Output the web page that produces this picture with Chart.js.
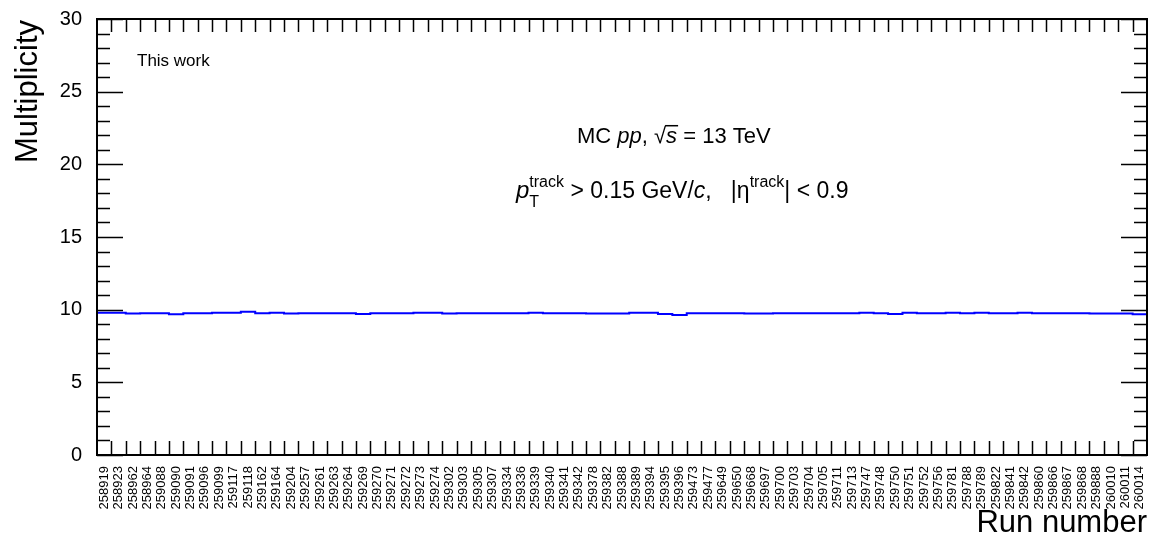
<!DOCTYPE html>
<html>
<head>
<meta charset="utf-8">
<script src="https://cdn.jsdelivr.net/npm/chart.js@4.4.0/dist/chart.umd.min.js"></script>
<style>
  html, body { margin: 0; padding: 0; background: #fff; }
  #wrap { width: 1162px; height: 536px; }
</style>
</head>
<body>
<div id="wrap"><canvas id="chart" width="1162" height="536"></canvas></div>
<script>
const FONT = "'Liberation Sans', Arial, Helvetica, sans-serif";

// run numbers (one bin each)
const runs = [
  '258919', '258923', '258962', '258964', '259088', '259090', '259091', '259096', '259099', '259117',
  '259118', '259162', '259164', '259204', '259257', '259261', '259263', '259264', '259269', '259270',
  '259271', '259272', '259273', '259274', '259302', '259303', '259305', '259307', '259334', '259336',
  '259339', '259340', '259341', '259342', '259378', '259382', '259388', '259389', '259394', '259395',
  '259396', '259473', '259477', '259649', '259650', '259668', '259697', '259700', '259703', '259704',
  '259705', '259711', '259713', '259747', '259748', '259750', '259751', '259752', '259756', '259781',
  '259788', '259789', '259822', '259841', '259842', '259860', '259866', '259867', '259868', '259888',
  '260010', '260011', '260014'
];

// mean multiplicity per run
const multiplicity = [
  9.79, 9.79, 9.73, 9.75, 9.75, 9.68, 9.75, 9.75, 9.79, 9.79,
  9.86, 9.75, 9.79, 9.73, 9.75, 9.75, 9.75, 9.75, 9.70, 9.75,
  9.75, 9.75, 9.79, 9.79, 9.73, 9.75, 9.75, 9.75, 9.75, 9.75,
  9.79, 9.75, 9.75, 9.75, 9.73, 9.73, 9.73, 9.79, 9.79, 9.70,
  9.63, 9.75, 9.75, 9.75, 9.75, 9.73, 9.73, 9.75, 9.75, 9.75,
  9.75, 9.75, 9.75, 9.79, 9.75, 9.70, 9.79, 9.75, 9.75, 9.79,
  9.75, 9.79, 9.75, 9.75, 9.79, 9.75, 9.75, 9.75, 9.75, 9.73,
  9.73, 9.73, 9.68
];

const yMin = 0;
const yMax = 30;
const yStep = 5;

// histogram: point at each bin's low edge, plus closing edge
const histPoints = multiplicity.map((v, i) => ({x: i, y: v}));
histPoints.push({x: runs.length, y: multiplicity[multiplicity.length - 1]});

// draw a line of mixed-style text, returns end x
function drawParts(ctx, x, y, parts) {
  parts.forEach(p => {
    if (p.stack) {
      // sub + superscript on top of each other
      let w = 0;
      p.stack.forEach(s => {
        ctx.font = (s.italic ? 'italic ' : '') + s.size + 'px ' + FONT;
        ctx.fillText(s.t, x, y + s.dy);
        w = Math.max(w, ctx.measureText(s.t).width);
      });
      x += w;
      return;
    }
    ctx.font = (p.italic ? 'italic ' : '') + p.size + 'px ' + FONT;
    const w = ctx.measureText(p.t).width;
    ctx.fillText(p.t, x, y + (p.dy || 0));
    if (p.overline) {
      ctx.fillRect(x - 1, y - p.size * 0.82, w + 2, 1.5);
    }
    x += w;
  });
  return x;
}

const framePlugin = {
  id: 'rootFrame',
  afterDraw(chart) {
    const {ctx, chartArea: a, scales: {x, y}} = chart;
    ctx.save();
    ctx.strokeStyle = '#000';
    ctx.fillStyle = '#000';
    ctx.lineWidth = 2;
    ctx.strokeRect(a.left, a.top, a.right - a.left, a.bottom - a.top);

    // y ticks, both sides
    ctx.lineWidth = 1.5;
    ctx.beginPath();
    for (let v = yMin; v <= yMax; v++) {
      const py = Math.round(y.getPixelForValue(v)) + 0.5;
      const len = v % yStep === 0 ? 26 : 13;
      ctx.moveTo(a.left, py); ctx.lineTo(a.left + len, py);
      ctx.moveTo(a.right, py); ctx.lineTo(a.right - len, py);
    }
    // x ticks at bin edges, top and bottom
    for (let i = 1; i < runs.length; i++) {
      const px = Math.round(x.getPixelForValue(i)) + 0.5;
      ctx.moveTo(px, a.bottom); ctx.lineTo(px, a.bottom - 14);
      ctx.moveTo(px, a.top); ctx.lineTo(px, a.top + 13);
    }
    ctx.stroke();

    // axis titles
    ctx.font = '31px ' + FONT;
    ctx.textAlign = 'right';
    ctx.textBaseline = 'alphabetic';
    ctx.fillText('Run number', a.right, 532);
    ctx.save();
    ctx.translate(37, a.top + 1);
    ctx.rotate(-Math.PI / 2);
    ctx.fillText('Multiplicity', 0, 0);
    ctx.restore();

    // labels
    ctx.textAlign = 'left';
    ctx.font = '17px ' + FONT;
    ctx.fillText('This work', 137, 66);

    drawParts(ctx, 577, 143, [
      {t: 'MC ', size: 22},
      {t: 'pp', size: 22, italic: true},
      {t: ', ', size: 22},
      {t: '\u221A', size: 22},
      {t: 's', size: 22, italic: true, overline: true},
      {t: ' = 13 TeV', size: 22}
    ]);

    drawParts(ctx, 516, 198, [
      {t: 'p', size: 24, italic: true},
      {stack: [
        {t: 'track', size: 16, dy: -11},
        {t: 'T', size: 16, dy: 9}
      ]},
      {t: ' > 0.15 GeV/', size: 23},
      {t: 'c', size: 23, italic: true},
      {t: ',   |\u03B7', size: 23},
      {t: 'track', size: 16, dy: -11},
      {t: '| < 0.9', size: 23}
    ]);
    ctx.restore();
  }
};

new Chart(document.getElementById('chart'), {
  type: 'line',
  data: {
    datasets: [{
      data: histPoints,
      stepped: true,
      borderColor: '#0000ff',
      borderWidth: 2,
      pointRadius: 0,
      fill: false
    }]
  },
  options: {
    responsive: false,
    animation: false,
    devicePixelRatio: 1,
    layout: {padding: {top: 18, right: 15, left: 0, bottom: 0}},
    plugins: {legend: {display: false}, tooltip: {enabled: false}},
    scales: {
      x: {
        type: 'linear',
        bounds: 'data',
        min: 0,
        max: runs.length,
        grid: {display: false},
        border: {display: false},
        afterBuildTicks: s => { s.ticks = runs.map((r, i) => ({value: i + 0.5})); },
        afterFit: s => { s.height = 81; },
        ticks: {
          autoSkip: false,
          minRotation: 90,
          maxRotation: 90,
          padding: 3,
          color: '#000',
          font: {family: FONT, size: 13},
          callback: v => runs[Math.floor(v)]
        }
      },
      y: {
        min: yMin,
        max: yMax,
        grid: {display: false},
        border: {display: false},
        afterFit: s => { s.width = 97; },
        ticks: {
          stepSize: yStep,
          padding: 7,
          color: '#000',
          font: {family: FONT, size: 20}
        }
      }
    }
  },
  plugins: [framePlugin]
});
</script>
</body>
</html>
